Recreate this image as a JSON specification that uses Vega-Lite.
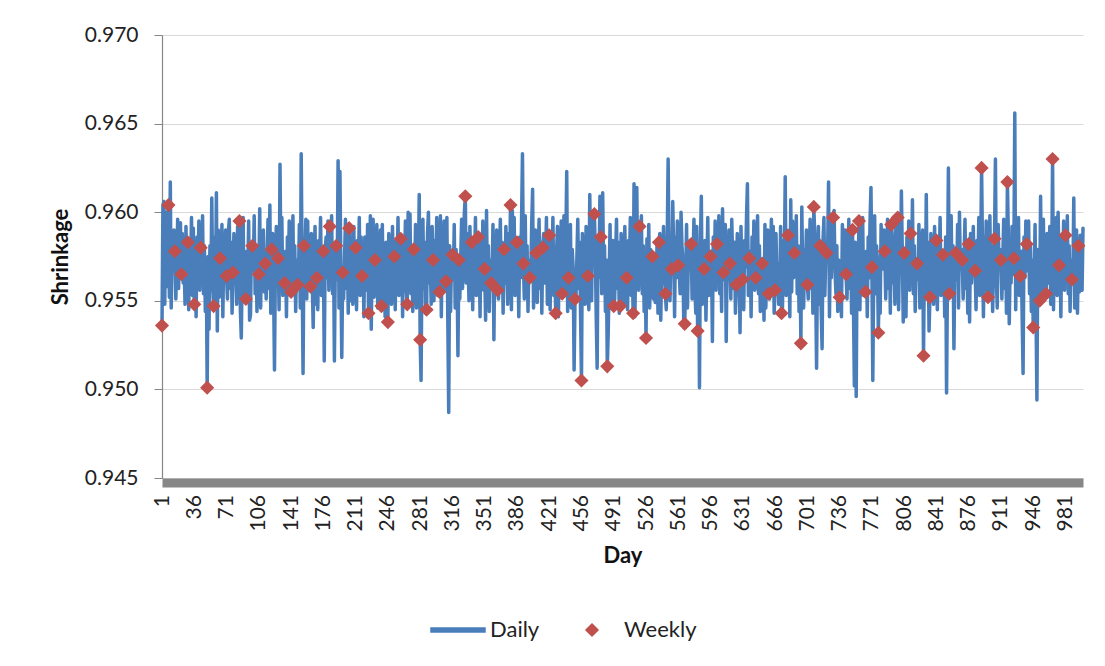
{
"$schema": "https://vega.github.io/schema/vega-lite/v6.json",
"width": 921, "height": 443,
"autosize": {"type": "none"},
"padding": {"left": 162, "top": 35, "right": 22, "bottom": 188},
"background": "white",
"config": {"view": {"stroke": null}, "font": "Lato", "axis": {"labelFont": "Lato", "titleFont": "Lato", "labelColor": "#222222", "titleColor": "#111111"}, "legend": {"labelFont": "Lato"}},
"datasets": {"daily": [
{"day":1,"value":0.9536},{"day":2,"value":0.9604},{"day":3,"value":0.9606},{"day":4,"value":0.9548},{"day":5,"value":0.9600},{"day":6,"value":0.9558},{"day":7,"value":0.9590},
{"day":8,"value":0.9604},{"day":9,"value":0.9552},{"day":10,"value":0.9617},{"day":11,"value":0.9546},{"day":12,"value":0.9579},{"day":13,"value":0.9568},{"day":14,"value":0.9590},
{"day":15,"value":0.9578},{"day":16,"value":0.9551},{"day":17,"value":0.9574},{"day":18,"value":0.9596},{"day":19,"value":0.9557},{"day":20,"value":0.9583},{"day":21,"value":0.9594},
{"day":22,"value":0.9565},{"day":23,"value":0.9588},{"day":24,"value":0.9560},{"day":25,"value":0.9571},{"day":26,"value":0.9548},{"day":27,"value":0.9592},{"day":28,"value":0.9565},
{"day":29,"value":0.9583},{"day":30,"value":0.9545},{"day":31,"value":0.9584},{"day":32,"value":0.9569},{"day":33,"value":0.9597},{"day":34,"value":0.9553},{"day":35,"value":0.9591},
{"day":36,"value":0.9548},{"day":37,"value":0.9578},{"day":38,"value":0.9541},{"day":39,"value":0.9586},{"day":40,"value":0.9563},{"day":41,"value":0.9595},{"day":42,"value":0.9556},
{"day":43,"value":0.9580},{"day":44,"value":0.9567},{"day":45,"value":0.9598},{"day":46,"value":0.9554},{"day":47,"value":0.9581},{"day":48,"value":0.9544},{"day":49,"value":0.9573},
{"day":50,"value":0.9501},{"day":51,"value":0.9575},{"day":52,"value":0.9534},{"day":53,"value":0.9581},{"day":54,"value":0.9556},{"day":55,"value":0.9608},{"day":56,"value":0.9560},
{"day":57,"value":0.9547},{"day":58,"value":0.9586},{"day":59,"value":0.9555},{"day":60,"value":0.9611},{"day":61,"value":0.9533},{"day":62,"value":0.9590},{"day":63,"value":0.9552},
{"day":64,"value":0.9574},{"day":65,"value":0.9562},{"day":66,"value":0.9593},{"day":67,"value":0.9541},{"day":68,"value":0.9579},{"day":69,"value":0.9568},{"day":70,"value":0.9590},
{"day":71,"value":0.9564},{"day":72,"value":0.9551},{"day":73,"value":0.9589},{"day":74,"value":0.9596},{"day":75,"value":0.9557},{"day":76,"value":0.9583},{"day":77,"value":0.9543},
{"day":78,"value":0.9566},{"day":79,"value":0.9588},{"day":80,"value":0.9560},{"day":81,"value":0.9571},{"day":82,"value":0.9548},{"day":83,"value":0.9592},{"day":84,"value":0.9565},
{"day":85,"value":0.9595},{"day":86,"value":0.9545},{"day":87,"value":0.9529},{"day":88,"value":0.9569},{"day":89,"value":0.9597},{"day":90,"value":0.9553},{"day":91,"value":0.9577},
{"day":92,"value":0.9551},{"day":93,"value":0.9578},{"day":94,"value":0.9563},{"day":95,"value":0.9595},{"day":96,"value":0.9539},{"day":97,"value":0.9542},{"day":98,"value":0.9580},
{"day":99,"value":0.9581},{"day":100,"value":0.9567},{"day":101,"value":0.9598},{"day":102,"value":0.9554},{"day":103,"value":0.9581},{"day":104,"value":0.9544},{"day":105,"value":0.9573},
{"day":106,"value":0.9565},{"day":107,"value":0.9602},{"day":108,"value":0.9546},{"day":109,"value":0.9579},{"day":110,"value":0.9568},{"day":111,"value":0.9590},{"day":112,"value":0.9555},
{"day":113,"value":0.9571},{"day":114,"value":0.9551},{"day":115,"value":0.9574},{"day":116,"value":0.9596},{"day":117,"value":0.9557},{"day":118,"value":0.9604},{"day":119,"value":0.9543},
{"day":120,"value":0.9579},{"day":121,"value":0.9588},{"day":122,"value":0.9560},{"day":123,"value":0.9511},{"day":124,"value":0.9571},{"day":125,"value":0.9592},{"day":126,"value":0.9565},
{"day":127,"value":0.9574},{"day":128,"value":0.9545},{"day":129,"value":0.9627},{"day":130,"value":0.9569},{"day":131,"value":0.9597},{"day":132,"value":0.9553},{"day":133,"value":0.9577},
{"day":134,"value":0.9560},{"day":135,"value":0.9578},{"day":136,"value":0.9541},{"day":137,"value":0.9586},{"day":138,"value":0.9563},{"day":139,"value":0.9595},{"day":140,"value":0.9556},
{"day":141,"value":0.9555},{"day":142,"value":0.9567},{"day":143,"value":0.9598},{"day":144,"value":0.9554},{"day":145,"value":0.9581},{"day":146,"value":0.9544},{"day":147,"value":0.9573},
{"day":148,"value":0.9559},{"day":149,"value":0.9562},{"day":150,"value":0.9593},{"day":151,"value":0.9546},{"day":152,"value":0.9633},{"day":153,"value":0.9568},{"day":154,"value":0.9509},
{"day":155,"value":0.9581},{"day":156,"value":0.9574},{"day":157,"value":0.9596},{"day":158,"value":0.9551},{"day":159,"value":0.9595},{"day":160,"value":0.9557},{"day":161,"value":0.9583},
{"day":162,"value":0.9558},{"day":163,"value":0.9588},{"day":164,"value":0.9560},{"day":165,"value":0.9535},{"day":166,"value":0.9571},{"day":167,"value":0.9592},{"day":168,"value":0.9548},
{"day":169,"value":0.9563},{"day":170,"value":0.9545},{"day":171,"value":0.9584},{"day":172,"value":0.9569},{"day":173,"value":0.9597},{"day":174,"value":0.9553},{"day":175,"value":0.9577},
{"day":176,"value":0.9578},{"day":177,"value":0.9516},{"day":178,"value":0.9578},{"day":179,"value":0.9586},{"day":180,"value":0.9563},{"day":181,"value":0.9595},{"day":182,"value":0.9556},
{"day":183,"value":0.9592},{"day":184,"value":0.9567},{"day":185,"value":0.9598},{"day":186,"value":0.9554},{"day":187,"value":0.9581},{"day":188,"value":0.9516},{"day":189,"value":0.9573},
{"day":190,"value":0.9581},{"day":191,"value":0.9562},{"day":192,"value":0.9629},{"day":193,"value":0.9546},{"day":194,"value":0.9623},{"day":195,"value":0.9568},{"day":196,"value":0.9518},
{"day":197,"value":0.9566},{"day":198,"value":0.9551},{"day":199,"value":0.9574},{"day":200,"value":0.9596},{"day":201,"value":0.9557},{"day":202,"value":0.9583},{"day":203,"value":0.9543},
{"day":204,"value":0.9591},{"day":205,"value":0.9588},{"day":206,"value":0.9550},{"day":207,"value":0.9571},{"day":208,"value":0.9548},{"day":209,"value":0.9592},{"day":210,"value":0.9565},
{"day":211,"value":0.9580},{"day":212,"value":0.9545},{"day":213,"value":0.9584},{"day":214,"value":0.9569},{"day":215,"value":0.9597},{"day":216,"value":0.9553},{"day":217,"value":0.9586},
{"day":218,"value":0.9564},{"day":219,"value":0.9578},{"day":220,"value":0.9541},{"day":221,"value":0.9586},{"day":222,"value":0.9563},{"day":223,"value":0.9556},{"day":224,"value":0.9593},
{"day":225,"value":0.9543},{"day":226,"value":0.9567},{"day":227,"value":0.9598},{"day":228,"value":0.9534},{"day":229,"value":0.9581},{"day":230,"value":0.9596},{"day":231,"value":0.9552},
{"day":232,"value":0.9573},{"day":233,"value":0.9562},{"day":234,"value":0.9593},{"day":235,"value":0.9546},{"day":236,"value":0.9579},{"day":237,"value":0.9568},{"day":238,"value":0.9590},
{"day":239,"value":0.9547},{"day":240,"value":0.9593},{"day":241,"value":0.9551},{"day":242,"value":0.9574},{"day":243,"value":0.9541},{"day":244,"value":0.9583},{"day":245,"value":0.9557},
{"day":246,"value":0.9538},{"day":247,"value":0.9588},{"day":248,"value":0.9560},{"day":249,"value":0.9571},{"day":250,"value":0.9548},{"day":251,"value":0.9592},{"day":252,"value":0.9565},
{"day":253,"value":0.9575},{"day":254,"value":0.9545},{"day":255,"value":0.9584},{"day":256,"value":0.9569},{"day":257,"value":0.9597},{"day":258,"value":0.9553},{"day":259,"value":0.9577},
{"day":260,"value":0.9585},{"day":261,"value":0.9578},{"day":262,"value":0.9541},{"day":263,"value":0.9586},{"day":264,"value":0.9563},{"day":265,"value":0.9595},{"day":266,"value":0.9556},
{"day":267,"value":0.9548},{"day":268,"value":0.9600},{"day":269,"value":0.9567},{"day":270,"value":0.9599},{"day":271,"value":0.9554},{"day":272,"value":0.9581},{"day":273,"value":0.9544},
{"day":274,"value":0.9579},{"day":275,"value":0.9562},{"day":276,"value":0.9593},{"day":277,"value":0.9546},{"day":278,"value":0.9579},{"day":279,"value":0.9568},{"day":280,"value":0.9610},
{"day":281,"value":0.9528},{"day":282,"value":0.9505},{"day":283,"value":0.9574},{"day":284,"value":0.9596},{"day":285,"value":0.9557},{"day":286,"value":0.9583},{"day":287,"value":0.9543},
{"day":288,"value":0.9545},{"day":289,"value":0.9588},{"day":290,"value":0.9600},{"day":291,"value":0.9560},{"day":292,"value":0.9571},{"day":293,"value":0.9548},{"day":294,"value":0.9592},
{"day":295,"value":0.9573},{"day":296,"value":0.9550},{"day":297,"value":0.9584},{"day":298,"value":0.9569},{"day":299,"value":0.9597},{"day":300,"value":0.9553},{"day":301,"value":0.9577},
{"day":302,"value":0.9555},{"day":303,"value":0.9598},{"day":304,"value":0.9541},{"day":305,"value":0.9586},{"day":306,"value":0.9563},{"day":307,"value":0.9595},{"day":308,"value":0.9556},
{"day":309,"value":0.9561},{"day":310,"value":0.9597},{"day":311,"value":0.9540},{"day":312,"value":0.9487},{"day":313,"value":0.9581},{"day":314,"value":0.9544},{"day":315,"value":0.9573},
{"day":316,"value":0.9576},{"day":317,"value":0.9562},{"day":318,"value":0.9593},{"day":319,"value":0.9546},{"day":320,"value":0.9579},{"day":321,"value":0.9568},{"day":322,"value":0.9519},
{"day":323,"value":0.9573},{"day":324,"value":0.9551},{"day":325,"value":0.9574},{"day":326,"value":0.9596},{"day":327,"value":0.9557},{"day":328,"value":0.9583},{"day":329,"value":0.9600},
{"day":330,"value":0.9609},{"day":331,"value":0.9560},{"day":332,"value":0.9588},{"day":333,"value":0.9571},{"day":334,"value":0.9550},{"day":335,"value":0.9592},{"day":336,"value":0.9565},
{"day":337,"value":0.9583},{"day":338,"value":0.9545},{"day":339,"value":0.9584},{"day":340,"value":0.9569},{"day":341,"value":0.9597},{"day":342,"value":0.9553},{"day":343,"value":0.9577},
{"day":344,"value":0.9586},{"day":345,"value":0.9578},{"day":346,"value":0.9541},{"day":347,"value":0.9586},{"day":348,"value":0.9563},{"day":349,"value":0.9595},{"day":350,"value":0.9556},
{"day":351,"value":0.9568},{"day":352,"value":0.9539},{"day":353,"value":0.9601},{"day":354,"value":0.9554},{"day":355,"value":0.9581},{"day":356,"value":0.9544},{"day":357,"value":0.9573},
{"day":358,"value":0.9560},{"day":359,"value":0.9562},{"day":360,"value":0.9593},{"day":361,"value":0.9528},{"day":362,"value":0.9579},{"day":363,"value":0.9568},{"day":364,"value":0.9590},
{"day":365,"value":0.9556},{"day":366,"value":0.9551},{"day":367,"value":0.9574},{"day":368,"value":0.9596},{"day":369,"value":0.9557},{"day":370,"value":0.9583},{"day":371,"value":0.9543},
{"day":372,"value":0.9579},{"day":373,"value":0.9560},{"day":374,"value":0.9592},{"day":375,"value":0.9571},{"day":376,"value":0.9548},{"day":377,"value":0.9588},{"day":378,"value":0.9565},
{"day":379,"value":0.9604},{"day":380,"value":0.9545},{"day":381,"value":0.9601},{"day":382,"value":0.9569},{"day":383,"value":0.9597},{"day":384,"value":0.9553},{"day":385,"value":0.9577},
{"day":386,"value":0.9583},{"day":387,"value":0.9578},{"day":388,"value":0.9541},{"day":389,"value":0.9586},{"day":390,"value":0.9563},{"day":391,"value":0.9595},{"day":392,"value":0.9633},
{"day":393,"value":0.9571},{"day":394,"value":0.9551},{"day":395,"value":0.9598},{"day":396,"value":0.9554},{"day":397,"value":0.9581},{"day":398,"value":0.9544},{"day":399,"value":0.9573},
{"day":400,"value":0.9563},{"day":401,"value":0.9562},{"day":402,"value":0.9593},{"day":403,"value":0.9613},{"day":404,"value":0.9546},{"day":405,"value":0.9568},{"day":406,"value":0.9590},
{"day":407,"value":0.9577},{"day":408,"value":0.9549},{"day":409,"value":0.9574},{"day":410,"value":0.9596},{"day":411,"value":0.9557},{"day":412,"value":0.9583},{"day":413,"value":0.9543},
{"day":414,"value":0.9580},{"day":415,"value":0.9588},{"day":416,"value":0.9560},{"day":417,"value":0.9571},{"day":418,"value":0.9597},{"day":419,"value":0.9548},{"day":420,"value":0.9565},
{"day":421,"value":0.9587},{"day":422,"value":0.9545},{"day":423,"value":0.9584},{"day":424,"value":0.9569},{"day":425,"value":0.9597},{"day":426,"value":0.9553},{"day":427,"value":0.9577},
{"day":428,"value":0.9543},{"day":429,"value":0.9578},{"day":430,"value":0.9592},{"day":431,"value":0.9541},{"day":432,"value":0.9586},{"day":433,"value":0.9563},{"day":434,"value":0.9595},
{"day":435,"value":0.9554},{"day":436,"value":0.9567},{"day":437,"value":0.9598},{"day":438,"value":0.9554},{"day":439,"value":0.9581},{"day":440,"value":0.9623},{"day":441,"value":0.9544},
{"day":442,"value":0.9563},{"day":443,"value":0.9562},{"day":444,"value":0.9593},{"day":445,"value":0.9546},{"day":446,"value":0.9579},{"day":447,"value":0.9568},{"day":448,"value":0.9511},
{"day":449,"value":0.9551},{"day":450,"value":0.9551},{"day":451,"value":0.9574},{"day":452,"value":0.9596},{"day":453,"value":0.9557},{"day":454,"value":0.9583},{"day":455,"value":0.9543},
{"day":456,"value":0.9505},{"day":457,"value":0.9588},{"day":458,"value":0.9560},{"day":459,"value":0.9571},{"day":460,"value":0.9548},{"day":461,"value":0.9592},{"day":462,"value":0.9565},
{"day":463,"value":0.9564},{"day":464,"value":0.9545},{"day":465,"value":0.9610},{"day":466,"value":0.9569},{"day":467,"value":0.9550},{"day":468,"value":0.9597},{"day":469,"value":0.9577},
{"day":470,"value":0.9599},{"day":471,"value":0.9578},{"day":472,"value":0.9541},{"day":473,"value":0.9512},{"day":474,"value":0.9586},{"day":475,"value":0.9563},{"day":476,"value":0.9609},
{"day":477,"value":0.9586},{"day":478,"value":0.9554},{"day":479,"value":0.9611},{"day":480,"value":0.9567},{"day":481,"value":0.9581},{"day":482,"value":0.9544},{"day":483,"value":0.9573},
{"day":484,"value":0.9513},{"day":485,"value":0.9532},{"day":486,"value":0.9562},{"day":487,"value":0.9593},{"day":488,"value":0.9546},{"day":489,"value":0.9579},{"day":490,"value":0.9584},
{"day":491,"value":0.9547},{"day":492,"value":0.9551},{"day":493,"value":0.9574},{"day":494,"value":0.9596},{"day":495,"value":0.9557},{"day":496,"value":0.9583},{"day":497,"value":0.9543},
{"day":498,"value":0.9547},{"day":499,"value":0.9588},{"day":500,"value":0.9560},{"day":501,"value":0.9571},{"day":502,"value":0.9548},{"day":503,"value":0.9592},{"day":504,"value":0.9565},
{"day":505,"value":0.9563},{"day":506,"value":0.9545},{"day":507,"value":0.9584},{"day":508,"value":0.9569},{"day":509,"value":0.9597},{"day":510,"value":0.9553},{"day":511,"value":0.9577},
{"day":512,"value":0.9543},{"day":513,"value":0.9616},{"day":514,"value":0.9541},{"day":515,"value":0.9586},{"day":516,"value":0.9614},{"day":517,"value":0.9563},{"day":518,"value":0.9556},
{"day":519,"value":0.9592},{"day":520,"value":0.9567},{"day":521,"value":0.9598},{"day":522,"value":0.9554},{"day":523,"value":0.9581},{"day":524,"value":0.9544},{"day":525,"value":0.9573},
{"day":526,"value":0.9529},{"day":527,"value":0.9585},{"day":528,"value":0.9562},{"day":529,"value":0.9593},{"day":530,"value":0.9546},{"day":531,"value":0.9579},{"day":532,"value":0.9568},
{"day":533,"value":0.9575},{"day":534,"value":0.9551},{"day":535,"value":0.9574},{"day":536,"value":0.9549},{"day":537,"value":0.9557},{"day":538,"value":0.9583},{"day":539,"value":0.9543},
{"day":540,"value":0.9583},{"day":541,"value":0.9588},{"day":542,"value":0.9539},{"day":543,"value":0.9571},{"day":544,"value":0.9560},{"day":545,"value":0.9592},{"day":546,"value":0.9565},
{"day":547,"value":0.9554},{"day":548,"value":0.9545},{"day":549,"value":0.9584},{"day":550,"value":0.9630},{"day":551,"value":0.9569},{"day":552,"value":0.9550},{"day":553,"value":0.9577},
{"day":554,"value":0.9568},{"day":555,"value":0.9606},{"day":556,"value":0.9578},{"day":557,"value":0.9541},{"day":558,"value":0.9586},{"day":559,"value":0.9563},{"day":560,"value":0.9595},
{"day":561,"value":0.9570},{"day":562,"value":0.9567},{"day":563,"value":0.9554},{"day":564,"value":0.9600},{"day":565,"value":0.9581},{"day":566,"value":0.9573},{"day":567,"value":0.9535},
{"day":568,"value":0.9537},{"day":569,"value":0.9562},{"day":570,"value":0.9593},{"day":571,"value":0.9546},{"day":572,"value":0.9579},{"day":573,"value":0.9568},{"day":574,"value":0.9584},
{"day":575,"value":0.9582},{"day":576,"value":0.9551},{"day":577,"value":0.9574},{"day":578,"value":0.9596},{"day":579,"value":0.9557},{"day":580,"value":0.9543},{"day":581,"value":0.9592},
{"day":582,"value":0.9533},{"day":583,"value":0.9580},{"day":584,"value":0.9501},{"day":585,"value":0.9583},{"day":586,"value":0.9609},{"day":587,"value":0.9548},{"day":588,"value":0.9565},
{"day":589,"value":0.9568},{"day":590,"value":0.9584},{"day":591,"value":0.9539},{"day":592,"value":0.9569},{"day":593,"value":0.9597},{"day":594,"value":0.9553},{"day":595,"value":0.9577},
{"day":596,"value":0.9575},{"day":597,"value":0.9578},{"day":598,"value":0.9527},{"day":599,"value":0.9586},{"day":600,"value":0.9563},{"day":601,"value":0.9595},{"day":602,"value":0.9556},
{"day":603,"value":0.9582},{"day":604,"value":0.9567},{"day":605,"value":0.9598},{"day":606,"value":0.9554},{"day":607,"value":0.9581},{"day":608,"value":0.9544},{"day":609,"value":0.9602},
{"day":610,"value":0.9566},{"day":611,"value":0.9562},{"day":612,"value":0.9593},{"day":613,"value":0.9527},{"day":614,"value":0.9579},{"day":615,"value":0.9568},{"day":616,"value":0.9590},
{"day":617,"value":0.9571},{"day":618,"value":0.9551},{"day":619,"value":0.9596},{"day":620,"value":0.9574},{"day":621,"value":0.9557},{"day":622,"value":0.9583},{"day":623,"value":0.9543},
{"day":624,"value":0.9559},{"day":625,"value":0.9588},{"day":626,"value":0.9560},{"day":627,"value":0.9571},{"day":628,"value":0.9532},{"day":629,"value":0.9592},{"day":630,"value":0.9565},
{"day":631,"value":0.9562},{"day":632,"value":0.9545},{"day":633,"value":0.9584},{"day":634,"value":0.9569},{"day":635,"value":0.9597},{"day":636,"value":0.9616},{"day":637,"value":0.9553},
{"day":638,"value":0.9574},{"day":639,"value":0.9578},{"day":640,"value":0.9541},{"day":641,"value":0.9586},{"day":642,"value":0.9563},{"day":643,"value":0.9595},{"day":644,"value":0.9556},
{"day":645,"value":0.9563},{"day":646,"value":0.9567},{"day":647,"value":0.9598},{"day":648,"value":0.9554},{"day":649,"value":0.9581},{"day":650,"value":0.9544},{"day":651,"value":0.9573},
{"day":652,"value":0.9571},{"day":653,"value":0.9562},{"day":654,"value":0.9539},{"day":655,"value":0.9593},{"day":656,"value":0.9546},{"day":657,"value":0.9579},{"day":658,"value":0.9590},
{"day":659,"value":0.9554},{"day":660,"value":0.9551},{"day":661,"value":0.9574},{"day":662,"value":0.9596},{"day":663,"value":0.9557},{"day":664,"value":0.9592},{"day":665,"value":0.9543},
{"day":666,"value":0.9556},{"day":667,"value":0.9588},{"day":668,"value":0.9560},{"day":669,"value":0.9571},{"day":670,"value":0.9548},{"day":671,"value":0.9550},{"day":672,"value":0.9592},
{"day":673,"value":0.9543},{"day":674,"value":0.9545},{"day":675,"value":0.9584},{"day":676,"value":0.9569},{"day":677,"value":0.9620},{"day":678,"value":0.9553},{"day":679,"value":0.9577},
{"day":680,"value":0.9587},{"day":681,"value":0.9578},{"day":682,"value":0.9541},{"day":683,"value":0.9607},{"day":684,"value":0.9555},{"day":685,"value":0.9595},{"day":686,"value":0.9563},
{"day":687,"value":0.9577},{"day":688,"value":0.9567},{"day":689,"value":0.9598},{"day":690,"value":0.9554},{"day":691,"value":0.9581},{"day":692,"value":0.9544},{"day":693,"value":0.9573},
{"day":694,"value":0.9526},{"day":695,"value":0.9603},{"day":696,"value":0.9562},{"day":697,"value":0.9546},{"day":698,"value":0.9579},{"day":699,"value":0.9568},{"day":700,"value":0.9590},
{"day":701,"value":0.9559},{"day":702,"value":0.9551},{"day":703,"value":0.9574},{"day":704,"value":0.9596},{"day":705,"value":0.9557},{"day":706,"value":0.9583},{"day":707,"value":0.9543},
{"day":708,"value":0.9603},{"day":709,"value":0.9588},{"day":710,"value":0.9560},{"day":711,"value":0.9512},{"day":712,"value":0.9571},{"day":713,"value":0.9592},{"day":714,"value":0.9548},
{"day":715,"value":0.9581},{"day":716,"value":0.9545},{"day":717,"value":0.9523},{"day":718,"value":0.9584},{"day":719,"value":0.9597},{"day":720,"value":0.9553},{"day":721,"value":0.9577},
{"day":722,"value":0.9577},{"day":723,"value":0.9578},{"day":724,"value":0.9617},{"day":725,"value":0.9541},{"day":726,"value":0.9586},{"day":727,"value":0.9563},{"day":728,"value":0.9595},
{"day":729,"value":0.9597},{"day":730,"value":0.9601},{"day":731,"value":0.9567},{"day":732,"value":0.9554},{"day":733,"value":0.9581},{"day":734,"value":0.9544},{"day":735,"value":0.9573},
{"day":736,"value":0.9552},{"day":737,"value":0.9562},{"day":738,"value":0.9541},{"day":739,"value":0.9593},{"day":740,"value":0.9579},{"day":741,"value":0.9568},{"day":742,"value":0.9590},
{"day":743,"value":0.9565},{"day":744,"value":0.9551},{"day":745,"value":0.9574},{"day":746,"value":0.9596},{"day":747,"value":0.9557},{"day":748,"value":0.9583},{"day":749,"value":0.9543},
{"day":750,"value":0.9590},{"day":751,"value":0.9548},{"day":752,"value":0.9502},{"day":753,"value":0.9583},{"day":754,"value":0.9496},{"day":755,"value":0.9581},{"day":756,"value":0.9565},
{"day":757,"value":0.9595},{"day":758,"value":0.9545},{"day":759,"value":0.9584},{"day":760,"value":0.9569},{"day":761,"value":0.9597},{"day":762,"value":0.9553},{"day":763,"value":0.9577},
{"day":764,"value":0.9555},{"day":765,"value":0.9578},{"day":766,"value":0.9541},{"day":767,"value":0.9586},{"day":768,"value":0.9563},{"day":769,"value":0.9595},{"day":770,"value":0.9614},
{"day":771,"value":0.9569},{"day":772,"value":0.9505},{"day":773,"value":0.9567},{"day":774,"value":0.9598},{"day":775,"value":0.9554},{"day":776,"value":0.9581},{"day":777,"value":0.9573},
{"day":778,"value":0.9532},{"day":779,"value":0.9562},{"day":780,"value":0.9543},{"day":781,"value":0.9593},{"day":782,"value":0.9579},{"day":783,"value":0.9568},{"day":784,"value":0.9590},
{"day":785,"value":0.9578},{"day":786,"value":0.9551},{"day":787,"value":0.9574},{"day":788,"value":0.9596},{"day":789,"value":0.9557},{"day":790,"value":0.9583},{"day":791,"value":0.9543},
{"day":792,"value":0.9593},{"day":793,"value":0.9588},{"day":794,"value":0.9560},{"day":795,"value":0.9571},{"day":796,"value":0.9548},{"day":797,"value":0.9592},{"day":798,"value":0.9565},
{"day":799,"value":0.9597},{"day":800,"value":0.9545},{"day":801,"value":0.9584},{"day":802,"value":0.9569},{"day":803,"value":0.9612},{"day":804,"value":0.9577},{"day":805,"value":0.9538},
{"day":806,"value":0.9577},{"day":807,"value":0.9578},{"day":808,"value":0.9541},{"day":809,"value":0.9586},{"day":810,"value":0.9563},{"day":811,"value":0.9595},{"day":812,"value":0.9556},
{"day":813,"value":0.9588},{"day":814,"value":0.9567},{"day":815,"value":0.9607},{"day":816,"value":0.9554},{"day":817,"value":0.9581},{"day":818,"value":0.9544},{"day":819,"value":0.9573},
{"day":820,"value":0.9571},{"day":821,"value":0.9562},{"day":822,"value":0.9593},{"day":823,"value":0.9546},{"day":824,"value":0.9579},{"day":825,"value":0.9568},{"day":826,"value":0.9590},
{"day":827,"value":0.9519},{"day":828,"value":0.9574},{"day":829,"value":0.9551},{"day":830,"value":0.9610},{"day":831,"value":0.9557},{"day":832,"value":0.9583},{"day":833,"value":0.9533},
{"day":834,"value":0.9552},{"day":835,"value":0.9588},{"day":836,"value":0.9560},{"day":837,"value":0.9571},{"day":838,"value":0.9548},{"day":839,"value":0.9592},{"day":840,"value":0.9565},
{"day":841,"value":0.9584},{"day":842,"value":0.9545},{"day":843,"value":0.9584},{"day":844,"value":0.9569},{"day":845,"value":0.9597},{"day":846,"value":0.9553},{"day":847,"value":0.9577},
{"day":848,"value":0.9576},{"day":849,"value":0.9578},{"day":850,"value":0.9541},{"day":851,"value":0.9586},{"day":852,"value":0.9498},{"day":853,"value":0.9563},{"day":854,"value":0.9625},
{"day":855,"value":0.9554},{"day":856,"value":0.9567},{"day":857,"value":0.9598},{"day":858,"value":0.9554},{"day":859,"value":0.9581},{"day":860,"value":0.9523},{"day":861,"value":0.9573},
{"day":862,"value":0.9577},{"day":863,"value":0.9562},{"day":864,"value":0.9593},{"day":865,"value":0.9546},{"day":866,"value":0.9600},{"day":867,"value":0.9568},{"day":868,"value":0.9579},
{"day":869,"value":0.9573},{"day":870,"value":0.9551},{"day":871,"value":0.9574},{"day":872,"value":0.9596},{"day":873,"value":0.9557},{"day":874,"value":0.9583},{"day":875,"value":0.9543},
{"day":876,"value":0.9582},{"day":877,"value":0.9538},{"day":878,"value":0.9588},{"day":879,"value":0.9560},{"day":880,"value":0.9571},{"day":881,"value":0.9592},{"day":882,"value":0.9565},
{"day":883,"value":0.9567},{"day":884,"value":0.9545},{"day":885,"value":0.9584},{"day":886,"value":0.9569},{"day":887,"value":0.9597},{"day":888,"value":0.9553},{"day":889,"value":0.9577},
{"day":890,"value":0.9625},{"day":891,"value":0.9578},{"day":892,"value":0.9541},{"day":893,"value":0.9586},{"day":894,"value":0.9563},{"day":895,"value":0.9595},{"day":896,"value":0.9556},
{"day":897,"value":0.9552},{"day":898,"value":0.9567},{"day":899,"value":0.9598},{"day":900,"value":0.9554},{"day":901,"value":0.9581},{"day":902,"value":0.9544},{"day":903,"value":0.9573},
{"day":904,"value":0.9585},{"day":905,"value":0.9630},{"day":906,"value":0.9562},{"day":907,"value":0.9546},{"day":908,"value":0.9593},{"day":909,"value":0.9568},{"day":910,"value":0.9579},
{"day":911,"value":0.9573},{"day":912,"value":0.9551},{"day":913,"value":0.9574},{"day":914,"value":0.9596},{"day":915,"value":0.9557},{"day":916,"value":0.9583},{"day":917,"value":0.9543},
{"day":918,"value":0.9617},{"day":919,"value":0.9588},{"day":920,"value":0.9537},{"day":921,"value":0.9571},{"day":922,"value":0.9560},{"day":923,"value":0.9592},{"day":924,"value":0.9565},
{"day":925,"value":0.9574},{"day":926,"value":0.9656},{"day":927,"value":0.9545},{"day":928,"value":0.9584},{"day":929,"value":0.9569},{"day":930,"value":0.9597},{"day":931,"value":0.9553},
{"day":932,"value":0.9564},{"day":933,"value":0.9578},{"day":934,"value":0.9541},{"day":935,"value":0.9509},{"day":936,"value":0.9586},{"day":937,"value":0.9563},{"day":938,"value":0.9595},
{"day":939,"value":0.9582},{"day":940,"value":0.9567},{"day":941,"value":0.9595},{"day":942,"value":0.9554},{"day":943,"value":0.9581},{"day":944,"value":0.9544},{"day":945,"value":0.9573},
{"day":946,"value":0.9535},{"day":947,"value":0.9562},{"day":948,"value":0.9593},{"day":949,"value":0.9546},{"day":950,"value":0.9494},{"day":951,"value":0.9579},{"day":952,"value":0.9568},
{"day":953,"value":0.9550},{"day":954,"value":0.9609},{"day":955,"value":0.9551},{"day":956,"value":0.9574},{"day":957,"value":0.9596},{"day":958,"value":0.9557},{"day":959,"value":0.9583},
{"day":960,"value":0.9554},{"day":961,"value":0.9588},{"day":962,"value":0.9560},{"day":963,"value":0.9571},{"day":964,"value":0.9592},{"day":965,"value":0.9548},{"day":966,"value":0.9565},
{"day":967,"value":0.9630},{"day":968,"value":0.9545},{"day":969,"value":0.9584},{"day":970,"value":0.9569},{"day":971,"value":0.9597},{"day":972,"value":0.9553},{"day":973,"value":0.9600},
{"day":974,"value":0.9570},{"day":975,"value":0.9578},{"day":976,"value":0.9541},{"day":977,"value":0.9586},{"day":978,"value":0.9563},{"day":979,"value":0.9595},{"day":980,"value":0.9556},
{"day":981,"value":0.9587},{"day":982,"value":0.9567},{"day":983,"value":0.9598},{"day":984,"value":0.9554},{"day":985,"value":0.9581},{"day":986,"value":0.9544},{"day":987,"value":0.9573},
{"day":988,"value":0.9562},{"day":989,"value":0.9562},{"day":990,"value":0.9608},{"day":991,"value":0.9546},{"day":992,"value":0.9579},{"day":993,"value":0.9590},{"day":994,"value":0.9543},
{"day":995,"value":0.9581},{"day":996,"value":0.9555},{"day":997,"value":0.9587},{"day":998,"value":0.9562},{"day":999,"value":0.9556},{"day":1000,"value":0.9591}
]},
"data": {"name": "daily"},
"encoding": {
  "x": {"field": "day", "type": "quantitative",
    "scale": {"domain": [1, 1000], "nice": false, "zero": false},
    "axis": {"title": "Day", "values": [1,36,71,106,141,176,211,246,281,316,351,386,421,456,491,526,561,596,631,666,701,736,771,806,841,876,911,946,981],
      "format": "d", "labelAngle": -90, "labelFontSize": 21, "labelOverlap": false, "labelFlush": false,
      "grid": false, "ticks": false, "tickSize": 0, "domainColor": "#878787", "domainWidth": 9, "offset": 4.5,
      "labelPadding": 12, "titleFontSize": 22, "titleFontWeight": "bold", "titlePadding": 14}},
  "y": {"field": "value", "type": "quantitative",
    "scale": {"domain": [0.945, 0.970], "nice": false, "zero": false},
    "axis": {"title": "Shrinkage", "values": [0.945, 0.95, 0.955, 0.96, 0.965, 0.97], "format": ".3f",
      "grid": true, "gridColor": "#d9d9d9", "gridWidth": 1.2, "domainColor": "#868686", "domainWidth": 1.2,
      "tickColor": "#868686", "tickSize": 8, "labelPadding": 16, "labelFontSize": 21,
      "titleFontSize": 22, "titleFontWeight": "bold", "titlePadding": 12}}
},
"layer": [
  {"mark": {"type": "line", "strokeWidth": 3.5, "strokeJoin": "round", "strokeCap": "round"},
   "encoding": {"color": {"datum": "Daily",
     "scale": {"domain": ["Daily", "Weekly"], "range": ["#4a7ebb", "#c0504d"]},
     "legend": {"orient": "none", "legendX": 268, "legendY": 567, "direction": "horizontal", "title": null,
       "symbolSize": 2916, "labelFontSize": 22, "labelOffset": 4, "columnPadding": 24, "padding": 0, "labelColor": "#222222",
       "encode": {"symbols": {"update": {
         "shape": {"signal": "datum.value === 'Daily' ? 'M-1,-0.075H1V0.075H-1Z' : 'M0,-0.222L0.222,0L0,0.222L-0.222,0Z'"},
         "fill": {"scale": "color", "field": "value"},
         "stroke": {"value": "transparent"},
         "opacity": {"value": 1}}}}}}}},
  {"transform": [{"filter": "datum.day % 7 == 1"}],
   "mark": {"type": "point", "shape": "M0,-1L1,0L0,1L-1,0Z", "filled": true, "opacity": 1, "size": 200},
   "encoding": {"color": {"datum": "Weekly"}}}
]
}
